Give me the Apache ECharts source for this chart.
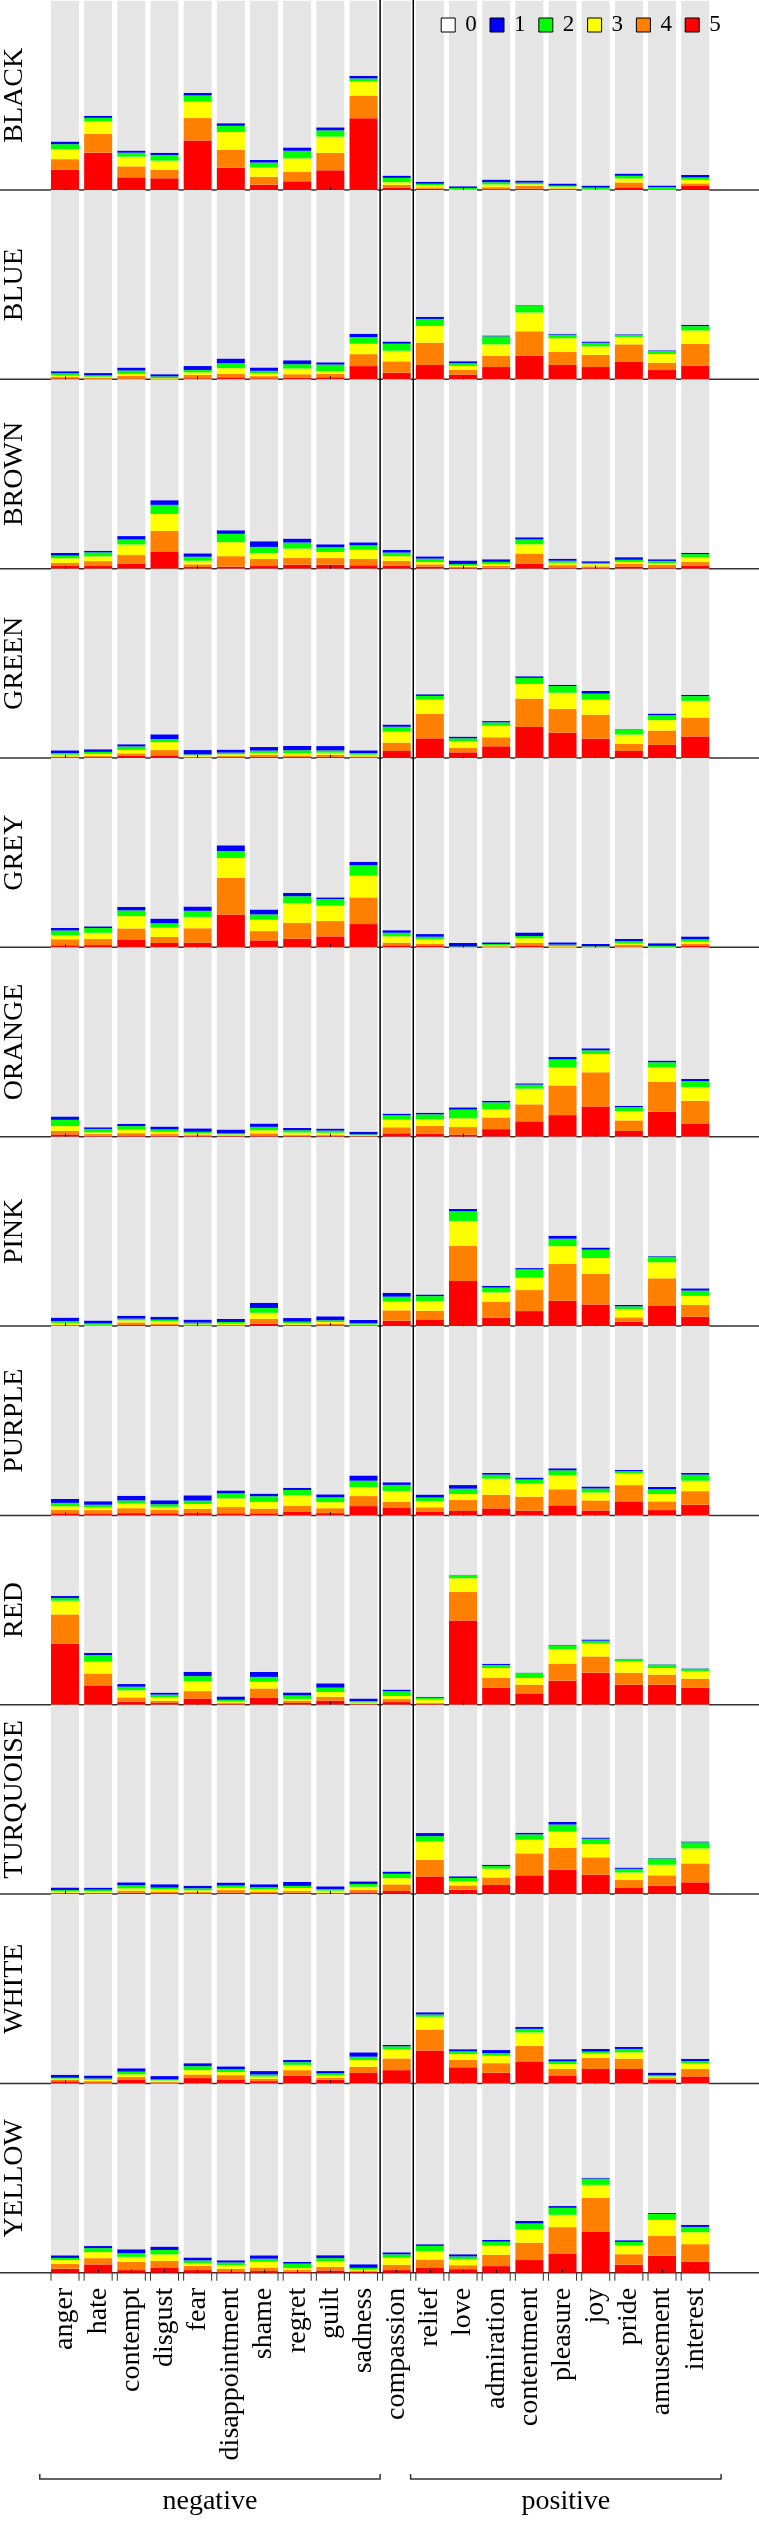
<!DOCTYPE html>
<html>
<head>
<meta charset="utf-8">
<script src="https://cdn.jsdelivr.net/npm/echarts@6/dist/echarts.min.js"></script>
<style>
html,body{margin:0;padding:0;background:#fff;}
#chart{width:759px;height:2521px;}
</style>
</head>
<body>
<div id="chart"></div>
<script>
// ---------- DATA ----------
const categories = ['anger','hate','contempt','disgust','fear','disappointment','shame','regret','guilt','sadness','compassion','relief','love','admiration','contentment','pleasure','joy','pride','amusement','interest'];
const colourNames = ['BLACK','BLUE','BROWN','GREEN','GREY','ORANGE','PINK','PURPLE','RED','TURQUOISE','WHITE','YELLOW'];
const legendLabels = ['0','1','2','3','4','5'];
const groupLabels = ['negative','positive'];
// each colour: percentages of ratings per level, rows = level 5,4,3,2,1 (level 0 is the remainder)
const BLACK = [
 [10.7,19.7,6.7,6.2,26.2,11.8,2.8,4.6,10.4,37.9,1.1,0.7,0.1,0.4,0.7,0.35,0.1,1.4,0.1,2.1],
 [5.6,9.9,5.8,4.4,11.8,9.5,4.2,4.9,9.2,12.0,1.6,0.7,0.1,1.1,1.4,0.5,0.1,2.6,0.1,1.4],
 [5.3,6.7,5.1,4.9,8.6,9.3,4.9,7.2,8.6,7.4,1.4,1.2,0.3,1.4,0.9,0.9,0.35,2.1,0.2,1.9],
 [2.6,1.8,2.1,3.0,3.3,3.3,2.6,4.0,3.3,1.6,2.3,0.7,0.6,1.2,0.9,0.5,0.7,1.4,1.1,1.2],
 [1.4,1.1,1.1,1.2,1.4,1.4,1.4,1.8,1.6,1.4,1.2,1.1,0.9,1.4,1.1,1.2,1.1,1.2,0.9,1.4]];
const BLUE = [
 [0.5,0.2,0.35,0.1,0.5,1.1,0.5,0.9,1.1,7.0,3.5,7.6,2.5,6.5,12.5,7.6,6.5,9.2,4.9,7.2],
 [0.7,0.5,1.6,0.2,1.8,1.8,1.2,1.8,1.8,6.3,6.0,11.8,2.5,6.0,12.9,6.9,6.5,9.3,3.9,11.6],
 [0.9,0.7,0.9,0.35,1.4,3.0,1.6,3.0,1.4,5.5,5.6,8.8,2.1,6.0,9.9,7.2,4.4,3.9,4.6,7.0],
 [1.1,0.7,1.8,0.9,1.2,2.6,1.2,2.3,3.5,3.5,3.7,3.7,1.4,4.2,3.7,1.9,1.9,1.1,1.6,2.3],
 [1.1,1.2,1.6,1.2,2.1,2.5,1.8,2.1,1.2,1.8,1.2,1.1,1.1,0.5,0.2,0.5,0.7,0.35,0.35,0.7]];
const BROWN = [
 [1.4,1.4,2.6,8.8,0.9,1.1,1.4,2.1,2.1,1.8,1.6,1.1,0.35,0.5,2.5,0.7,0.35,1.1,0.7,1.6],
 [1.6,2.6,4.6,11.1,1.4,5.5,3.7,3.7,3.5,3.3,2.5,1.2,0.7,0.9,5.5,1.2,0.9,1.4,1.4,1.9],
 [2.5,2.5,5.6,9.0,1.9,7.4,3.2,4.8,3.2,4.9,2.5,1.2,0.5,1.1,4.9,1.2,1.1,1.1,0.9,2.6],
 [1.4,2.1,2.6,4.8,2.1,4.4,3.2,3.2,2.5,2.3,1.9,1.8,0.9,1.1,2.5,1.1,0.7,1.1,1.1,1.6],
 [1.4,0.9,1.8,2.5,1.8,1.9,3.0,2.1,1.6,1.6,1.4,1.2,1.9,1.4,1.2,1.1,0.9,1.4,0.9,0.7]];
const GREEN = [
 [0.35,0.35,1.1,1.4,0.2,0.35,0.5,0.5,0.5,0.35,3.7,10.4,3.0,6.2,16.4,13.4,10.2,3.7,6.9,11.4],
 [0.5,0.7,1.4,2.8,0.5,0.7,1.1,0.9,1.2,0.5,4.4,12.9,2.3,4.8,15.0,12.5,12.7,3.9,7.6,10.0],
 [0.9,1.1,1.8,4.2,0.7,0.9,1.1,1.1,1.1,0.9,5.8,7.6,3.5,6.0,7.7,8.6,7.9,4.8,5.5,8.8],
 [0.9,1.1,1.8,1.6,0.5,0.9,1.2,1.6,1.2,0.9,2.6,1.9,1.6,1.8,3.2,3.5,3.2,2.8,2.6,2.5],
 [1.4,1.4,1.2,2.5,2.3,1.6,1.9,2.3,2.3,1.4,1.2,0.9,0.9,0.7,0.9,0.7,1.4,0.1,0.9,0.7]];
const GREY = [
 [1.1,1.2,4.2,2.3,2.5,17.4,3.7,4.6,5.8,12.3,1.1,0.7,0.1,0.2,0.7,0.2,0.1,0.35,0.1,0.7],
 [3.2,3.2,5.8,3.2,7.6,19.4,4.9,8.3,8.1,14.1,1.4,1.1,0.1,0.35,1.6,0.2,0.1,0.9,0.1,1.2],
 [2.1,3.3,6.5,4.9,6.0,10.4,6.0,10.4,8.1,11.4,3.3,2.6,0.1,0.5,2.5,0.35,0.2,0.9,0.1,1.1],
 [2.5,2.5,3.0,2.3,3.2,3.7,2.8,3.7,3.5,5.5,1.9,1.2,0.2,0.7,1.2,0.7,0.2,1.1,0.5,1.2],
 [1.4,0.9,1.9,2.5,2.3,3.0,2.6,1.8,0.9,1.9,1.4,1.4,1.8,0.9,1.9,1.2,1.2,1.2,1.4,1.6]];
const ORANGE = [
 [1.2,0.5,0.7,0.5,0.5,0.35,0.7,0.5,0.5,0.2,1.8,1.6,1.1,4.0,8.1,11.4,16.0,3.0,13.2,7.0],
 [1.8,0.9,1.2,0.9,0.7,0.35,1.1,0.5,0.5,0.2,3.2,4.2,4.0,6.2,9.0,15.7,18.0,5.6,15.8,12.0],
 [2.6,0.9,1.8,1.2,0.7,0.5,1.6,1.2,1.1,0.35,4.0,3.5,4.6,4.4,8.3,9.5,9.7,4.9,7.7,7.2],
 [3.3,1.8,1.9,1.2,0.7,0.5,1.8,1.2,1.1,0.5,2.3,2.5,4.6,3.5,2.1,4.2,1.9,2.1,2.6,3.2],
 [1.8,0.9,1.2,1.6,1.8,2.1,1.8,1.2,1.1,1.4,0.9,0.9,1.2,0.9,0.7,1.4,1.1,0.7,0.9,1.1]];
const PINK = [
 [0.2,0.1,0.5,0.35,0.2,0.2,1.2,0.35,0.35,0.2,2.8,3.2,23.8,4.4,7.9,13.4,11.4,2.3,10.6,4.9],
 [0.35,0.2,1.4,0.9,0.2,0.35,2.6,0.35,0.9,0.2,5.5,4.9,18.5,8.5,11.1,19.5,16.2,2.3,14.6,6.2],
 [1.1,0.35,1.1,1.4,0.5,0.7,3.2,0.9,0.9,0.35,4.6,5.1,13.2,4.9,6.5,9.3,8.3,4.4,8.5,4.8],
 [0.9,0.7,0.9,0.7,0.9,0.9,2.5,0.7,0.9,0.7,2.6,2.6,5.1,2.5,4.4,3.9,4.4,1.4,3.0,2.8],
 [1.9,1.6,1.6,1.6,1.6,1.6,2.8,1.9,2.1,1.8,2.1,0.9,1.2,0.9,0.7,1.6,1.2,0.7,0.35,1.2]];
const PURPLE = [
 [1.1,0.7,1.2,1.1,1.2,1.1,1.1,1.8,1.2,4.9,3.9,1.8,2.3,3.7,2.5,5.3,2.6,7.4,2.8,5.6],
 [1.8,2.1,2.6,1.8,2.3,3.3,2.5,3.3,2.6,5.3,3.2,2.5,5.8,7.2,7.4,8.5,5.3,8.6,4.6,7.2],
 [1.9,1.4,2.5,1.6,2.5,4.6,3.5,5.5,3.2,4.8,5.8,3.3,3.2,8.5,6.9,7.4,4.2,6.2,3.9,5.5],
 [1.8,1.4,1.6,1.4,1.8,2.6,3.0,2.8,2.5,3.3,3.2,1.8,2.8,2.1,2.1,2.6,2.1,1.1,2.5,3.2],
 [2.1,1.9,2.5,2.1,2.8,1.6,1.4,1.2,1.6,2.8,1.4,1.6,1.9,0.9,1.1,1.1,1.1,0.7,1.2,0.9]];
const RED = [
 [32.2,10.2,1.6,0.9,3.3,0.5,3.7,0.9,2.1,0.35,1.4,0.5,44.5,9.0,6.0,12.7,16.9,10.6,10.6,9.0],
 [15.5,6.3,2.3,1.2,3.9,0.5,4.9,1.1,2.1,0.35,1.6,0.5,15.1,5.3,4.6,9.0,8.6,6.3,5.3,4.8],
 [7.2,6.2,3.7,1.8,5.3,0.7,3.5,1.1,2.5,0.5,1.6,1.8,7.2,5.1,3.5,7.7,6.9,6.0,3.5,4.0],
 [1.4,3.5,1.9,1.4,2.6,0.9,2.6,1.8,2.3,0.7,2.5,0.9,1.8,1.6,2.8,1.9,1.4,1.2,1.8,1.2],
 [1.1,1.2,1.4,1.1,2.3,1.8,2.6,1.6,2.3,1.4,0.9,0.5,0.1,0.7,0.1,0.35,0.7,0.2,0.2,0.2]];
const TURQUOISE = [
 [0.35,0.35,0.7,0.5,0.35,0.7,0.5,0.7,0.35,0.9,1.6,9.3,2.3,4.8,9.9,12.9,10.2,3.5,4.4,6.2],
 [0.35,0.35,1.1,0.9,0.7,1.4,0.9,0.9,0.35,1.4,3.5,8.8,2.3,4.0,11.6,11.6,9.2,3.9,5.5,10.0],
 [0.7,0.9,1.2,1.1,0.9,1.2,1.1,1.6,1.1,1.6,3.3,9.7,2.1,4.6,7.2,8.5,7.0,4.0,5.6,7.9],
 [0.7,0.7,1.6,0.9,1.1,1.2,1.1,1.1,0.7,1.4,2.3,2.8,1.8,1.4,2.8,3.7,2.8,1.9,3.3,3.2],
 [1.4,1.1,1.6,1.8,1.4,1.6,1.6,2.1,1.6,1.4,1.2,1.6,0.9,0.7,0.9,1.4,0.7,0.7,0.2,0.5]];
const WHITE = [
 [1.1,0.5,1.8,0.35,2.8,1.8,1.2,4.0,1.9,5.5,7.0,17.4,8.5,5.6,11.3,3.9,7.6,7.6,1.8,3.7],
 [0.7,0.7,1.6,0.5,1.9,2.6,1.2,3.0,1.1,3.3,6.2,11.1,4.0,5.1,8.6,3.7,5.8,5.5,1.1,3.9],
 [0.7,0.7,1.4,0.7,2.3,1.6,1.2,2.8,1.2,3.5,4.8,6.7,3.0,3.9,7.0,2.6,2.5,3.3,0.7,3.0],
 [0.5,0.7,1.4,0.5,2.1,1.4,1.1,1.4,1.1,1.8,1.6,1.2,1.4,1.4,1.9,1.4,0.9,1.8,0.7,1.2],
 [1.6,1.6,1.8,1.8,1.6,1.6,1.8,1.2,1.2,2.3,0.7,1.2,1.2,1.6,1.1,1.2,1.4,1.1,1.4,1.2]];
const YELLOW = [
 [2.1,4.4,1.4,2.5,1.4,0.7,0.9,0.5,1.2,0.5,1.4,2.8,1.9,3.5,6.7,10.2,21.5,4.2,9.0,5.8],
 [2.5,3.3,4.4,3.7,2.3,1.4,1.9,0.9,1.9,0.5,2.8,4.2,2.1,6.0,9.2,13.9,18.0,5.6,10.6,9.3],
 [2.1,3.2,2.6,3.5,1.4,1.9,3.0,1.1,3.0,0.7,3.7,4.4,3.2,4.8,6.9,6.5,6.9,4.6,8.3,6.3],
 [1.1,2.1,1.9,2.3,1.4,1.4,1.6,2.3,1.6,0.9,1.8,2.8,1.4,2.1,3.2,3.7,3.3,1.9,3.2,2.8],
 [1.4,1.1,2.1,1.8,1.6,1.2,1.8,0.9,1.6,1.9,1.1,0.9,1.2,0.9,1.4,0.9,0.5,0.9,0.5,1.1]];
const panelData = [BLACK,BLUE,BROWN,GREEN,GREY,ORANGE,PINK,PURPLE,RED,TURQUOISE,WHITE,YELLOW];

// ---------- STYLE / LAYOUT ----------
const levelOrder = ['5','4','3','2','1'];
const levelColors = {'5':'#ff0000','4':'#ff8000','3':'#ffff00','2':'#00ff00','1':'#0000ff','0':'#e5e5e5'};
const FONT = 'Liberation Serif';
const W = 759;
const gridLeft = 48.4, gridRight = 47.2;
const firstTop = 0.66, panelH = 189.34;
const bw = (W - gridLeft - gridRight) / categories.length;

const grids = [], xAxes = [], yAxes = [], series = [], graphics = [];
panelData.forEach((rows, k) => {
  const top = firstTop + k * panelH;
  const base = top + panelH;
  const last = k === panelData.length - 1;
  grids.push({left: gridLeft, right: gridRight, top: top, height: panelH});
  xAxes.push({
    type: 'category', gridIndex: k, data: categories, z: 5,
    axisLine: {show: false},
    axisTick: {show: true, alignWithLabel: true, inside: true, length: 3, lineStyle: {color: '#000', width: 1}},
    axisLabel: last ? {show: true, rotate: 90, margin: 15, fontFamily: FONT, fontSize: 28, color: '#000', interval: 0} : {show: false},
    splitLine: {show: false}
  });
  yAxes.push({type: 'value', gridIndex: k, min: 0, max: 100, show: false});
  const sums = categories.map(() => 0);
  levelOrder.forEach((lv, j) => {
    rows[j].forEach((v, i) => sums[i] += v);
    series.push({
      type: 'bar', name: lv, xAxisIndex: k, yAxisIndex: k, stack: 'p' + k,
      barWidth: 28, data: rows[j], itemStyle: {color: levelColors[lv]},
      silent: true, animation: false
    });
  });
  series.push({
    type: 'bar', name: '0', xAxisIndex: k, yAxisIndex: k, stack: 'p' + k,
    barWidth: 28, data: sums.map(s => +(100 - s).toFixed(2)), itemStyle: {color: levelColors['0']},
    silent: true, animation: false
  });
  // baseline across full width (under bars)
  graphics.push({type: 'line', z: 0, shape: {x1: 0, y1: base, x2: W, y2: base}, style: {stroke: '#333', lineWidth: 1.5}});
  // colour name
  graphics.push({type: 'text', z: 10, x: 14.5, y: top + panelH / 2, rotation: Math.PI / 2,
    style: {text: colourNames[k], fontFamily: FONT, fontSize: 28, fill: '#000', align: 'center', verticalAlign: 'middle'}});
});

// edge ticks under the last panel
const lastIdx = panelData.length - 1;
series.push({
  type: 'custom', xAxisIndex: lastIdx, yAxisIndex: lastIdx, clip: false, silent: true, animation: false, z: 5,
  data: categories.map((c, i) => [i, 0]),
  renderItem: function (params, api) {
    const p = api.coord([api.value(0), 0]);
    const h = 14;
    return {type: 'group', children: [
      {type: 'line', shape: {x1: p[0] - h, y1: p[1], x2: p[0] - h, y2: p[1] + 8}, style: {stroke: '#333', lineWidth: 1}},
      {type: 'line', shape: {x1: p[0] + h, y1: p[1], x2: p[0] + h, y2: p[1] + 8}, style: {stroke: '#333', lineWidth: 1}}
    ]};
  }
});

// separators between negative | compassion | positive
const lastBase = firstTop + panelData.length * panelH;
[10, 11].forEach(b => {
  const x = gridLeft + b * bw;
  graphics.push({type: 'line', z: 10, shape: {x1: x, y1: 0, x2: x, y2: lastBase}, style: {stroke: '#000', lineWidth: 1.5}});
});

// group brackets
const brY = 2479, brT = 5;
const brackets = [
  {x1: gridLeft - 0.26 * bw, x2: gridLeft + 10 * bw},
  {x1: gridLeft + 10.92 * bw, x2: gridLeft + 20.28 * bw}
];
brackets.forEach((b, i) => {
  graphics.push({type: 'polyline', z: 10, shape: {points: [[b.x1, brY - brT], [b.x1, brY], [b.x2, brY], [b.x2, brY - brT]]},
    style: {stroke: '#333', lineWidth: 1.5, fill: null}});
  graphics.push({type: 'text', z: 10, x: (b.x1 + b.x2) / 2, y: 2502,
    style: {text: groupLabels[i], fontFamily: FONT, fontSize: 28, fill: '#000', align: 'center', verticalAlign: 'middle'}});
});

const chart = echarts.init(document.getElementById('chart'), null, {renderer: 'canvas'});
chart.setOption({
  animation: false,
  backgroundColor: '#fff',
  legend: {
    show: true, selectedMode: false, left: 435.7, top: 8.5, orient: 'horizontal',
    itemWidth: 14, itemHeight: 14, itemGap: 12.8, icon: 'rect',
    itemStyle: {borderColor: '#000', borderWidth: 1},
    textStyle: {fontFamily: FONT, fontSize: 23, color: '#000', padding: [0, 0, 0, 5], lineHeight: 23},
    data: legendLabels.map(l => l === '0' ? {name: l, itemStyle: {color: '#ffffff', borderColor: '#000', borderWidth: 1}} : {name: l})
  },
  grid: grids,
  xAxis: xAxes,
  yAxis: yAxes,
  series: series,
  graphic: {elements: graphics}
});
</script>
</body>
</html>
